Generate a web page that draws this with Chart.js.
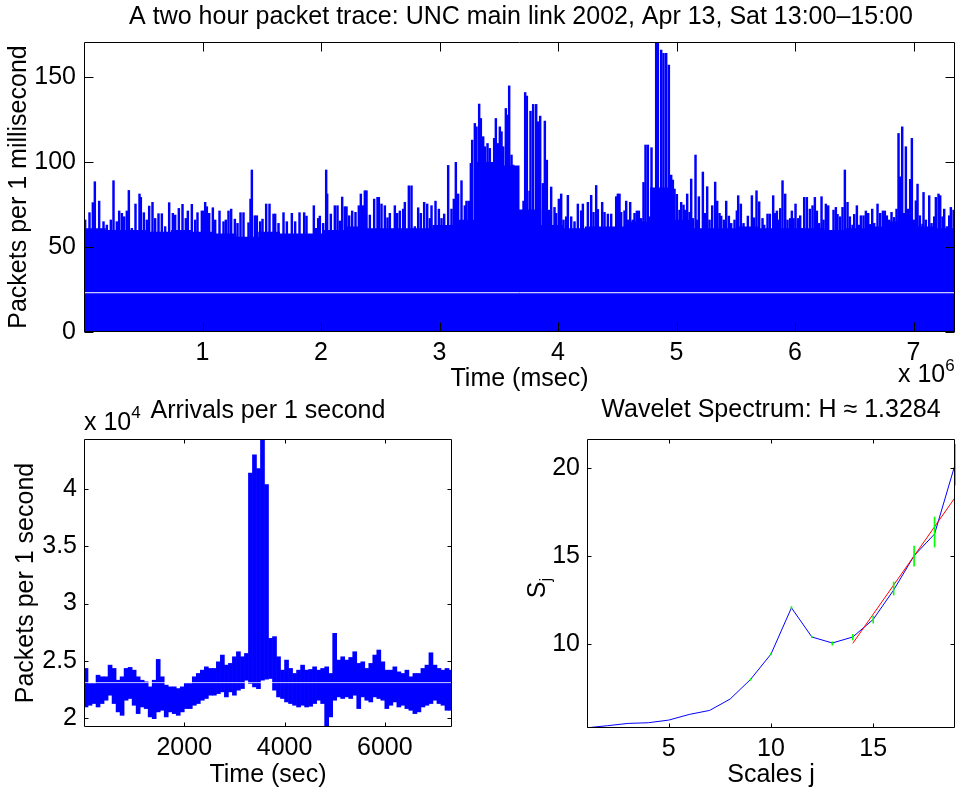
<!DOCTYPE html>
<html><head><meta charset="utf-8">
<script src="https://cdn.jsdelivr.net/npm/chart.js@4.4.1/dist/chart.umd.min.js"></script>
<style>
html,body{margin:0;padding:0;background:#fff;width:959px;height:794px;overflow:hidden}
canvas{position:absolute;display:block}
#c1{left:0;top:0}
#c2{left:0;top:395px}
#c3{left:480px;top:395px}
</style></head><body>
<canvas id="c1" width="959" height="395"></canvas>
<canvas id="c2" width="480" height="399"></canvas>
<canvas id="c3" width="479" height="399"></canvas>
<script>
// ---------------- DATA ----------------
// Top panel: packets per 1 ms. Individual spikes: time (millions of ms) and height.
const msSpikeTime = [
  0.0099, 0.0464, 0.0746, 0.0914, 0.128, 0.1646, 0.1927, 0.2265, 0.249, 0.2771,
  0.2968, 0.3193, 0.339, 0.3615, 0.3784, 0.4037, 0.4346, 0.4684, 0.4796, 0.505,
  0.5303, 0.55, 0.5781, 0.6006, 0.6287, 0.6568, 0.685, 0.7187, 0.7497, 0.7694,
  0.8003, 0.8313, 0.8594, 0.8763, 0.91, 0.9382, 0.9578, 0.9944, 1.0085, 1.0225,
  1.0366, 1.0563, 1.0872, 1.1069, 1.1435, 1.1773, 1.1969, 1.2194, 1.2419, 1.2729,
  1.2954, 1.3207, 1.346, 1.3882, 1.4051, 1.4164, 1.4417, 1.4586, 1.4867, 1.5064,
  1.5373, 1.5654, 1.5992, 1.6133, 1.6414, 1.6836, 1.7117, 1.7539, 1.782, 1.8186,
  1.8579, 1.8776, 1.9395, 1.9592, 1.9761, 1.9901, 2.0182, 2.0436, 2.052, 2.0829,
  2.1167, 2.1392, 2.1589, 2.1786, 2.2011, 2.2152, 2.2377, 2.263, 2.2911, 2.3192,
  2.3361, 2.3558, 2.3699, 2.3839, 2.412, 2.4486, 2.4768, 2.488, 2.5105, 2.5387,
  2.5612, 2.5808, 2.623, 2.6427, 2.6652, 2.6934, 2.7074, 2.7412, 2.7637, 2.7918,
  2.82, 2.8425, 2.8706, 2.8959, 2.9184, 2.9325, 2.9662, 2.9944, 3.0169, 3.0394,
  3.0731, 3.1013, 3.1209, 3.1378, 3.1575, 3.1856, 3.2138, 3.2278, 3.2475, 3.2644,
  3.2757, 3.2982, 3.3122, 3.3347, 3.3488, 3.3685, 3.3826, 3.4051, 3.4247, 3.4388,
  3.4613, 3.4754, 3.4951, 3.5091, 3.5232, 3.5373, 3.5598, 3.5738, 3.5879, 3.6076,
  3.6217, 3.6357, 3.6582,
  3.6892, 3.7089, 3.7229, 3.737, 3.7595, 3.7679, 3.7904, 3.8158, 3.8298, 3.8495,
  3.872, 3.8889, 3.9058, 3.9226, 3.9423, 3.9705, 3.9845, 4.007, 4.0267, 4.0464,
  4.0689, 4.083, 4.1111, 4.1392, 4.1674, 4.1955, 4.2096, 4.2377, 4.2518, 4.2799,
  4.2996, 4.3221, 4.3362, 4.3727, 4.3924, 4.4205, 4.4487, 4.4712, 4.4909, 4.5049,
  4.519, 4.5331, 4.5612, 4.5753, 4.5893, 4.609, 4.6315, 4.6456, 4.6653, 4.6822,
  4.7018, 4.7215, 4.7384, 4.7581, 4.7722, 4.789, 4.8144, 4.8284, 4.8425, 4.8706,
  4.8903, 4.9128, 4.9353, 4.955, 4.9691, 4.9831, 5.0028, 5.0253, 5.0394, 5.0591,
  5.0732, 5.09, 5.1097, 5.1238, 5.1379, 5.1604, 5.1744, 5.1885, 5.2082, 5.2223,
  5.2419, 5.2588, 5.2785, 5.301, 5.3263, 5.3432, 5.3629, 5.377, 5.3995, 5.4192,
  5.4417, 5.4614, 5.4895, 5.5092,
  5.5204, 5.5429, 5.5654, 5.602, 5.6358, 5.6555, 5.6751, 5.6976, 5.7258, 5.7398,
  5.768, 5.7877, 5.8158, 5.8299, 5.8467, 5.8664, 5.8749, 5.8946, 5.9171, 5.9368,
  5.9593, 5.9733, 5.9874, 6.0043, 6.0268, 6.0436, 6.0633, 6.0774, 6.0999, 6.1252,
  6.1477, 6.1674, 6.1843, 6.204, 6.2237, 6.2406, 6.2602, 6.2799, 6.3024, 6.3249,
  6.3446, 6.3587, 6.3812, 6.4009, 6.4206, 6.4431, 6.4628, 6.4853, 6.4994, 6.5219,
  6.5416, 6.5556, 6.5781, 6.5978, 6.6175, 6.6344, 6.6513, 6.6681, 6.6963, 6.7188,
  6.7413, 6.7581, 6.775, 6.7947, 6.8144, 6.8369, 6.8566, 6.8735, 6.8875, 6.9044,
  6.9213, 6.9354, 6.955, 6.9719, 6.986, 7.0057, 7.0198, 7.0338, 7.0535, 7.076,
  7.0845, 7.1042, 7.1323, 7.152, 7.1745, 7.1885, 7.211, 7.2251, 7.2448, 7.2589,
  7.2814, 7.3011, 7.3151, 7.3376
];
const msSpikeValue = [
  65.9, 70.2, 76.1, 88.4, 77, 64.9, 62.9, 65.9, 89, 64.9,
  71.2, 69.8, 67.8, 71.2, 83.3, 61, 75.3, 81.2, 79.2, 70.2,
  65.9, 74.1, 76.3, 66.8, 69.6, 69.6, 62, 76.1, 69.8, 68.8,
  72.7, 75.1, 66.8, 71.2, 75.1, 65.9, 70.2, 71.2, 71.2, 76.3,
  73.7, 69.8, 73.1, 65.9, 71.2, 64.9, 65.9, 71.2, 72.3, 66.4,
  63.9, 70.2, 70.2, 64.3, 78.2, 95.3, 68.4, 68.4, 64.9, 66.4,
  75.3, 75.3, 69.4, 69.4, 63.9, 70.2, 64.9, 69.8, 64.9, 70.2,
  70.2, 68.2, 74.3, 61, 66.8, 68.2, 63.9, 95.3, 81.2, 69.4,
  74.3, 74.3, 65.3, 79.4, 73.7, 73.7, 68.4, 71.2, 70.4, 74.3,
  81.2, 74.3, 83.1, 83.1, 68.8, 78.2, 79.2, 79.2, 75.3, 74.3,
  67.2, 69.8, 74.3, 69.8, 71.2, 72.3, 76.3, 86, 86, 62,
  73.1, 69.8, 76.3, 75.3, 66.8, 74.3, 77, 72.3, 66.8, 69.4,
  98, 72.3, 78.2, 99.8, 81.2, 89, 74.3, 77, 77, 99.2,
  112.9, 122.7, 120.7, 134.1, 125.6, 114.9, 109, 110.9, 108, 99.2,
  113.9, 125.6, 110.9, 120.7, 117.8, 109, 131.5, 127.6, 144.8, 104.1,
  98.2, 91.3, 65.9,
  67.8, 77, 140.9, 138.8, 82.9, 129.9, 133.9, 133.9, 123.7, 127,
  87.4, 124.1, 101.1, 71.7, 85.3, 73.3, 69.8, 78.2, 81.2, 65.9,
  67.8, 80.4, 67.8, 64.9, 75.3, 71.3, 75.3, 61, 76.3, 80.4,
  70.4, 86.2, 72.1, 76.3, 70.4, 69.4, 69.4, 61.6, 79.6, 81.2,
  81.2, 70.4, 71.3, 77, 65.9, 76.3, 65.9, 69.8, 71.2, 71.2,
  66.8, 88, 110, 110, 67.8, 108.4, 79.6, 172, 172, 165.8,
  163.9, 163.9, 157, 92.3, 89.4, 84.1, 81, 71.7, 76.3, 74.7,
  71.7, 81.2, 70.4, 90, 66.8, 104.1, 65.9, 79.6, 60, 94.1,
  69.8, 85.5, 65.9, 74.3, 88.2, 77, 69.8, 68.2, 65.9, 77,
  68.2, 63.9, 65.9, 71.3,
  80.2, 75.3, 63.9, 68.2, 80.2, 67.2, 83.1, 76.6, 66.8, 62.9,
  69.4, 69.4, 80.2, 69.8, 71.2, 65.9, 72.7, 89, 81.2, 65.9,
  66.8, 71.2, 66.8, 75.3, 66.8, 68.4, 61, 79.2, 79.2, 72.3,
  74.3, 79.2, 71.2, 63.9, 79.6, 65.9, 75.3, 74.3, 58, 71.7,
  73.3, 69.2, 67.8, 73.3, 95.3, 76.3, 67.8, 62.9, 69.2, 74.3,
  62.9, 68.4, 68.4, 71.2, 69.8, 63.3, 72.3, 63.9, 75.3, 69.8,
  71.2, 71.2, 68.4, 65.9, 70.4, 67.4, 72.3, 116.8, 91.3, 120.7,
  69.8, 109, 72.3, 89.8, 113.9, 65.9, 77.2, 87, 68.4, 63.5,
  82.1, 65.9, 80.2, 63.9, 67.8, 79.2, 81.2, 80.2, 67.8, 72.3,
  62, 68.4, 73.3, 71.7
];
// dense (solid) level of the trace, one value per 183750 ms segment
const msFloorStep = 183750;
const msFloor = [
  61, 60, 60, 59, 60, 59, 58, 56, 59, 58,
  58, 60, 62, 61, 61, 61, 63, 66, 100, 98,
  72, 63, 61, 62, 62, 65, 85, 66, 61, 61,
  62, 61, 61, 61, 60, 61, 62, 65, 62, 61
];
const msMean = 23.1;
const msXTicks = [1e6, 2e6, 3e6, 4e6, 5e6, 6e6, 7e6];
const msYTicks = [0, 50, 100, 150];

// Bottom-left: arrivals per 1 second, range [low, high] in each 80 s bin
const secBinWidth = 80;
const secHigh = [
  24330, 23010, 23010, 23740, 23600, 23600, 24620, 24330, 23300, 23600,
  24330, 24420, 24180, 23600, 23300, 23160, 22720, 23300, 25120, 23600,
  22870, 22720, 22720, 22570, 22720, 23010, 23010, 23600, 23890, 24180,
  24470, 24330, 24330, 24910, 25500, 24620, 24770, 25350, 25790, 25350,
  25640, 41400, 43000, 41800, 44390, 40400, 26960, 27110, 25350, 24180,
  25060, 24330, 23890, 24180, 24620, 24180, 24240, 24470, 24180, 24330,
  24470, 23890, 27400, 25060, 25350, 25060, 25290, 25790, 24770, 24910,
  24330, 24770, 25500, 25940, 24910, 24180, 24180, 24470, 24030, 23890,
  24180, 23600, 23890, 23890, 24330, 24620, 25700, 24620, 24330, 24180,
  24330, 24180
];
const secLow = [
  20960, 21110, 21260, 20960, 21260, 21550, 21990, 21260, 20530, 20230,
  21550, 21700, 21110, 20380, 20960, 20820, 20090, 19940, 20530, 20670,
  20090, 20530, 20380, 20230, 20530, 20820, 20820, 21110, 21260, 21550,
  21700, 21990, 21990, 22130, 22280, 21840, 22280, 21990, 22430, 22570,
  23300, 23010, 22720, 22570, 23300, 23400, 23450, 22430, 21840, 21700,
  21400, 21260, 21110, 20960, 21110, 20960, 21020, 21260, 21550, 21260,
  19060, 20090, 21550, 21840, 21700, 21840, 21700, 21990, 20820, 21840,
  21550, 21400, 21840, 21700, 21550, 20820, 21110, 21400, 20960, 21110,
  20820, 20670, 20380, 20530, 20960, 21110, 21260, 21550, 21260, 21110,
  20670, 20670
];
const secMean = 23090;
const secXTicks = [2000, 4000, 6000];
const secYTicks = [20000, 25000, 30000, 35000, 40000];

// Bottom-right: wavelet spectrum
const scalesJ = [1, 2, 3, 4, 5, 6, 7, 8, 9, 10, 11, 12, 13, 14, 15, 16, 17, 18, 19];
const spectrumS = [5.24, 5.36, 5.49, 5.53, 5.68, 6.0, 6.23, 6.875, 7.99, 9.43, 12.06, 10.40, 10.06, 10.40, 11.40, 13.07, 15.02, 16.25, 20.19];
const fitJ = [14, 19];
const fitS = [10.04, 18.32];
const errJ  = [9, 10, 11, 12, 13, 14, 15, 16, 17, 18, 19];
const errLo = [7.94, 9.38, 12.0, 10.36, 9.94, 10.23, 11.19, 12.78, 14.43, 15.51, 19.03];
const errHi = [8.03, 9.48, 12.13, 10.44, 10.13, 10.55, 11.59, 13.52, 15.57, 17.22, 21.35];
const wavXTicks = [5, 10, 15];
const wavYTicks = [10, 15, 20];

// ---------------- HELPERS ----------------
const FONT = '"Liberation Sans", Arial, Helvetica, sans-serif';
const FS = 25;
const BLUE = '#0000ff';
Chart.defaults.font.family = FONT;
Chart.defaults.font.size = FS;
Chart.defaults.color = '#000';

function boxPlugin(tickLen) {
  return {
    id: 'matlabBox',
    afterDraw(chart) {
      const { ctx, chartArea: a, scales } = chart;
      ctx.save();
      ctx.strokeStyle = '#000';
      ctx.lineWidth = 1;
      const L = Math.round(a.left) + 0.5, R = Math.round(a.right) - 0.5;
      const T = Math.round(a.top) + 0.5, B = Math.round(a.bottom) - 0.5;
      ctx.beginPath();
      ctx.rect(L, T, R - L, B - T);
      scales.x.ticks.forEach(t => {
        const x = Math.round(scales.x.getPixelForValue(t.value)) + 0.5;
        ctx.moveTo(x, B); ctx.lineTo(x, B - tickLen);
        ctx.moveTo(x, T); ctx.lineTo(x, T + tickLen);
      });
      scales.y.ticks.forEach(t => {
        const y = Math.round(scales.y.getPixelForValue(t.value)) + 0.5;
        ctx.moveTo(L, y); ctx.lineTo(L + tickLen, y);
        ctx.moveTo(R, y); ctx.lineTo(R - tickLen, y);
      });
      ctx.stroke();
      ctx.restore();
    }
  };
}

function drawRich(ctx, it) {
  ctx.save();
  ctx.translate(it.x, it.y);
  if (it.rot) ctx.rotate(it.rot);
  const parts = it.parts || [{ text: it.text, size: it.size || FS }];
  let w = 0;
  parts.forEach(p => { ctx.font = (p.size || FS) + 'px ' + FONT; p.w = ctx.measureText(p.text).width; w += p.w; });
  let x0 = it.align === 'left' ? 0 : (it.align === 'right' ? -w : -w / 2);
  ctx.fillStyle = '#000';
  ctx.textBaseline = 'alphabetic';
  ctx.textAlign = 'left';
  parts.forEach(p => {
    ctx.font = (p.size || FS) + 'px ' + FONT;
    ctx.fillText(p.text, x0, p.dy || 0);
    x0 += p.w;
  });
  ctx.restore();
}
function textPlugin(items) {
  return { id: 'texts', afterDraw(chart) { items.forEach(it => drawRich(chart.ctx, it)); } };
}

function axis(min, max, ticks, fmt, pad, fit) {
  return {
    type: 'linear', min, max, offset: false,
    grid: { display: false, drawTicks: false },
    border: { display: false },
    ticks: { autoSkip: false, maxRotation: 0, minRotation: 0, includeBounds: false,
             padding: pad, color: '#000', font: { size: FS, family: FONT }, callback: fmt },
    afterBuildTicks(s) { s.ticks = ticks.map(v => ({ value: v })); },
    afterFit: fit
  };
}
const baseOpts = (padding) => ({
  responsive: false, animation: false, devicePixelRatio: 1, events: [],
  layout: { padding },
  plugins: { legend: { display: false }, tooltip: { enabled: false }, title: { display: false } }
});

// ---------------- TOP CHART ----------------
const msSpikePts = msSpikeTime.map((t, i) => ({ x: t * 1e6, y: msSpikeValue[i] }));
const msFloorPts = msFloor.map((v, g) => ({ x: g * msFloorStep, y: v }));
const msEnd = msFloor.length * msFloorStep;
msFloorPts.push({ x: msEnd, y: msFloor[msFloor.length - 1] });

new Chart(document.getElementById('c1'), {
  type: 'bar',
  data: { datasets: [
    { type: 'line', data: msFloorPts, stepped: true, fill: 'origin', backgroundColor: BLUE,
      borderColor: BLUE, borderWidth: 0, pointRadius: 0, order: 3 },
    { type: 'bar', data: msSpikePts, backgroundColor: BLUE, barThickness: 1.8, order: 2 },
    { type: 'line', data: [{ x: 0, y: msMean }, { x: msEnd, y: msMean }], borderColor: '#ffffff',
      borderWidth: 1, pointRadius: 0, order: 1 }
  ] },
  options: Object.assign(baseOpts({ left: 0, top: 42, right: 4, bottom: 0 }), {
    scales: {
      x: axis(0, 7.35e6, msXTicks, v => v / 1e6, 6, s => { s.height = 63; }),
      y: axis(0, 170.6, msYTicks, v => v, 8, s => { s.width = 84; })
    }
  }),
  plugins: [boxPlugin(9), textPlugin([
    { text: 'A two hour packet trace: UNC main link 2002, Apr 13, Sat 13:00\u201315:00', x: 521, y: 23.5 },
    { text: 'Packets per 1 millisecond', x: 26, y: 187, rot: -Math.PI / 2 },
    { text: 'Time (msec)', x: 519.5, y: 386 },
    { parts: [{ text: 'x 10', size: FS }, { text: '6', size: 17, dy: -11 }], x: 898, y: 382, align: 'left' }
  ])]
});

// ---------------- BOTTOM-LEFT CHART ----------------
const secPts = secHigh.map((h, i) => ({ x: (i + 0.5) * secBinWidth, y: [secLow[i], h] }));
new Chart(document.getElementById('c2'), {
  type: 'bar',
  data: { datasets: [
    { type: 'bar', data: secPts, backgroundColor: BLUE, barPercentage: 1, categoryPercentage: 1, order: 2 },
    { type: 'line', data: [{ x: 0, y: secMean }, { x: 7340, y: secMean }], borderColor: 'rgba(255,255,255,0.8)',
      borderWidth: 1, pointRadius: 0, order: 1 }
  ] },
  options: Object.assign(baseOpts({ left: 0, top: 44, right: 28, bottom: 0 }), {
    scales: {
      x: axis(0, 7340, secXTicks, v => String(v), 6, s => { s.height = 67; }),
      y: axis(19210, 44390, secYTicks, v => String(v / 1e4), 7, s => { s.width = 84; })
    }
  }),
  plugins: [boxPlugin(4), textPlugin([
    { parts: [{ text: 'x 10', size: FS }, { text: '4', size: 17, dy: -12 }], x: 84, y: 35, align: 'left' },
    { text: 'Arrivals per 1 second', x: 268, y: 23 },
    { text: 'Packets per 1 second', x: 33, y: 188, rot: -Math.PI / 2 },
    { text: 'Time (sec)', x: 268, y: 387 }
  ])]
});

// ---------------- BOTTOM-RIGHT CHART ----------------
new Chart(document.getElementById('c3'), {
  type: 'line',
  data: { datasets: [
    { type: 'line', data: scalesJ.map((j, i) => ({ x: j, y: spectrumS[i] })), borderColor: BLUE,
      borderWidth: 1, pointRadius: 0, order: 3 },
    { type: 'line', data: fitJ.map((j, i) => ({ x: j, y: fitS[i] })), borderColor: '#ff0000',
      borderWidth: 1, pointRadius: 0, order: 2 },
    { type: 'bar', data: errJ.map((j, i) => ({ x: j, y: [errLo[i], errHi[i]] })), backgroundColor: '#00ff00',
      barThickness: 1, clip: false, order: 1 }
  ] },
  options: Object.assign(baseOpts({ left: 0, top: 44, right: 4, bottom: 0 }), {
    scales: {
      x: axis(1, 19, wavXTicks, v => String(v), 6, s => { s.height = 66; }),
      y: axis(5.23, 21.65, wavYTicks, v => String(v), 7, s => { s.width = 107; })
    }
  }),
  plugins: [boxPlugin(4), textPlugin([
    { text: 'Wavelet Spectrum: H \u2248 1.3284', x: 291, y: 22 },
    { parts: [{ text: 'S', size: FS }, { text: 'j', size: 17, dy: 6 }], x: 65, y: 193, rot: -Math.PI / 2 },
    { text: 'Scales j', x: 291, y: 387 }
  ])]
});
</script>
</body></html>
